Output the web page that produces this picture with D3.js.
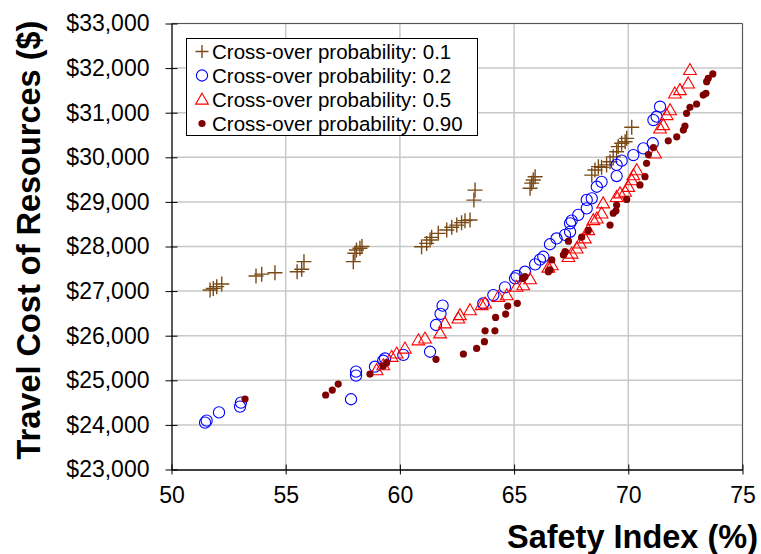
<!DOCTYPE html>
<html><head><meta charset="utf-8">
<script src="https://cdn.jsdelivr.net/npm/d3@7"></script>
<style>body{margin:0;background:#fff}svg{display:block;font-family:"Liberation Sans",Arial,sans-serif}</style>
</head><body><svg id="c" width="761" height="554"></svg>
<script>
// Series data: [safety index %, travel cost $]
const seriesNames = ["Cross-over probability: 0.1","Cross-over probability: 0.2","Cross-over probability: 0.5","Cross-over probability: 0.90"];
const p01 = [[51.69,27025],[51.83,27060],[51.98,27100],[52.2,27160],[53.7,27340],[53.95,27380],[54.53,27410],[55.5,27435],[55.7,27490],[55.8,27660],[57.96,27660],[58.03,27850],[58.1,27920],[58.25,27960],[58.34,28000],[60.95,27995],[61.17,28070],[61.32,28145],[61.39,28205],[61.68,28295],[62.05,28370],[62.27,28430],[62.49,28480],[62.7,28535],[62.85,28580],[63.07,28595],[63.24,29040],[63.29,29265],[65.7,29305],[65.77,29420],[65.84,29490],[65.92,29565],[68.4,29600],[68.54,29715],[68.69,29790],[68.83,29775],[69.05,29830],[69.2,29900],[69.34,30010],[69.49,30125],[69.56,30240],[69.71,30315],[69.86,30350],[69.93,30425],[70.15,30675]];
const p02 = [[51.47,24050],[51.54,24095],[52.08,24280],[53.0,24410],[53.04,24500],[57.86,24575],[58.08,25105],[58.08,25195],[58.91,25305],[59.27,25440],[59.35,25490],[60.15,25570],[61.32,25640],[61.58,26240],[61.78,26490],[61.87,26675],[63.65,26725],[64.09,26910],[64.6,27085],[65.04,27285],[65.11,27340],[65.48,27435],[65.92,27600],[66.13,27705],[66.28,27770],[66.57,28050],[66.86,28180],[67.23,28260],[67.45,28330],[67.45,28520],[67.52,28580],[67.81,28710],[68.18,28855],[68.18,29045],[68.4,29080],[68.62,29340],[68.83,29450],[69.49,29580],[69.49,29830],[69.71,29925],[70.22,30050],[70.66,30200],[71.07,30315],[71.1,30835],[71.24,30910],[71.39,31135]];
const p05 = [[58.98,25230],[59.27,25340],[59.64,25530],[59.86,25605],[60.22,25715],[60.81,25900],[61.1,25940],[61.76,26055],[61.97,26280],[62.56,26390],[62.63,26465],[63.07,26575],[63.58,26690],[63.73,26725],[64.31,26875],[64.68,26910],[65.11,27100],[65.4,27135],[65.7,27270],[66.5,27530],[66.65,27585],[67.38,27770],[67.52,27845],[67.74,27960],[67.88,28070],[68.1,28185],[68.25,28370],[68.47,28595],[68.62,28630],[68.83,28745],[68.9,28970],[69.49,29115],[69.64,29195],[69.86,29230],[70.0,29340],[70.15,29490],[70.22,29600],[70.37,29715],[71.17,30090],[71.39,30650],[71.53,30725],[71.68,30950],[71.83,31060],[72.04,31435],[72.26,31510],[72.62,31660],[72.7,31960]];
const p09 = [[53.22,24580],[56.75,24670],[57.04,24780],[57.3,24915],[58.69,25140],[59.27,25320],[59.42,25395],[61.58,25470],[62.78,25590],[63.36,25715],[63.7,25865],[63.73,26110],[64.16,26110],[64.19,26410],[64.63,26485],[64.72,26665],[65.14,26725],[65.37,27285],[65.48,27325],[66.5,27435],[66.57,27475],[66.65,27700],[67.16,27810],[67.23,27885],[67.38,28120],[67.96,28210],[68.25,28360],[69.2,28480],[69.34,28745],[69.46,28800],[69.49,28930],[69.93,29055],[70.51,29380],[70.73,29565],[70.8,29865],[70.88,30060],[71.1,30220],[71.75,30370],[72.12,30460],[72.41,30610],[72.48,30700],[72.55,30985],[72.7,31120],[72.99,31195],[73.28,31395],[73.4,31435],[73.43,31695],[73.5,31770],[73.7,31870]];
const xTicks = [50,55,60,65,70,75];
const yTicks = [23000,24000,25000,26000,27000,28000,29000,30000,31000,32000,33000];
const xTitle = "Safety Index (%)";
const yTitle = "Travel Cost of Resources ($)";

const svg = d3.select("#c");
const L = 171.5, R = 742.5, T = 23.5, B = 469.5;
const x = d3.scaleLinear().domain([50,75]).range([L,R]);
const y = d3.scaleLinear().domain([23000,33000]).range([B,T]);

// gridlines
const g = svg.append("g");
g.selectAll("line.h").data(yTicks.slice(1)).join("line")
  .attr("x1",L).attr("x2",R).attr("y1",d=>y(d)).attr("y2",d=>y(d))
  .attr("stroke","#c8c8c8").attr("stroke-width",1.5);
g.selectAll("line.v").data(xTicks.slice(1)).join("line")
  .attr("y1",T).attr("y2",B).attr("x1",d=>x(d)).attr("x2",d=>x(d))
  .attr("stroke","#c8c8c8").attr("stroke-width",1.5);
// plot border (top/right)
svg.append("path").attr("d",`M${L},${T}H${R}V${B}`).attr("fill","none").attr("stroke","#555").attr("stroke-width",1);

// axes
const fmt = d => "$" + d3.format(",")(d);
const yAx = svg.append("g").attr("transform",`translate(${L},0)`)
  .call(d3.axisLeft(y).tickValues(yTicks).tickFormat(fmt).tickSizeInner(6).tickSizeOuter(0).tickPadding(16));
yAx.selectAll(".tick line").attr("x2",6).attr("x1",-6);
yAx.selectAll("text").attr("font-size",23).attr("fill","#000").attr("font-family","Liberation Sans, Arial, sans-serif");
const xAx = svg.append("g").attr("transform",`translate(0,${B})`)
  .call(d3.axisBottom(x).tickValues(xTicks).tickSizeInner(5).tickSizeOuter(0).tickPadding(12));
xAx.selectAll(".tick line").attr("y1",-5).attr("y2",5);
xAx.selectAll("text").attr("font-size",23).attr("fill","#000").attr("font-family","Liberation Sans, Arial, sans-serif");
svg.selectAll(".domain").attr("stroke","#000").attr("stroke-width",1.3);

// titles
svg.append("text").attr("x",758).attr("y",548).attr("text-anchor","end")
  .attr("font-size",32.5).attr("font-weight","bold").text(xTitle);
svg.append("text").attr("transform","translate(40,240) rotate(-90)").attr("text-anchor","middle")
  .attr("font-size",32.5).attr("font-weight","bold").text(yTitle);

// marker drawers
const plus = (sel,s)=>sel.append("path").attr("d",`M${-s},0H${s}M0,${-s}V${s}`).attr("stroke","#7a4a16").attr("stroke-width",1.4).attr("fill","none");
const circ = (sel)=>sel.append("circle").attr("r",5.6).attr("fill","none").attr("stroke","#0000ff").attr("stroke-width",1.1);
const tri = (sel)=>sel.append("path").attr("d",d3.symbol(d3.symbolTriangle,70)()).attr("transform","translate(0,1)").attr("fill","none").attr("stroke","#ff0000").attr("stroke-width",1.1);
const dot = (sel)=>sel.append("circle").attr("r",3.6).attr("fill","#800000");

const draw = (data, fn) => {
  const gg = svg.append("g").selectAll("g").data(data).join("g")
    .attr("transform",d=>`translate(${x(d[0])},${y(d[1])})`);
  fn(gg);
};
draw(p01, s=>plus(s,7.5));
draw(p02, circ);
draw(p05, tri);
draw(p09, dot);

// legend
const lg = svg.append("g");
lg.append("rect").attr("x",186.5).attr("y",38.5).attr("width",291).attr("height",97).attr("fill","#fff").attr("stroke","#000").attr("stroke-width",1);
const rows = [51.5,75.5,99.5,123.5];
const fns = [s=>plus(s,6.5),circ,tri,dot];
seriesNames.forEach((n,i)=>{
  const r = lg.append("g").attr("transform",`translate(202,${rows[i]})`);
  fns[i](r);
  lg.append("text").attr("x",212).attr("y",rows[i]+7).attr("font-size",20.5).text(n);
});
</script></body></html>
